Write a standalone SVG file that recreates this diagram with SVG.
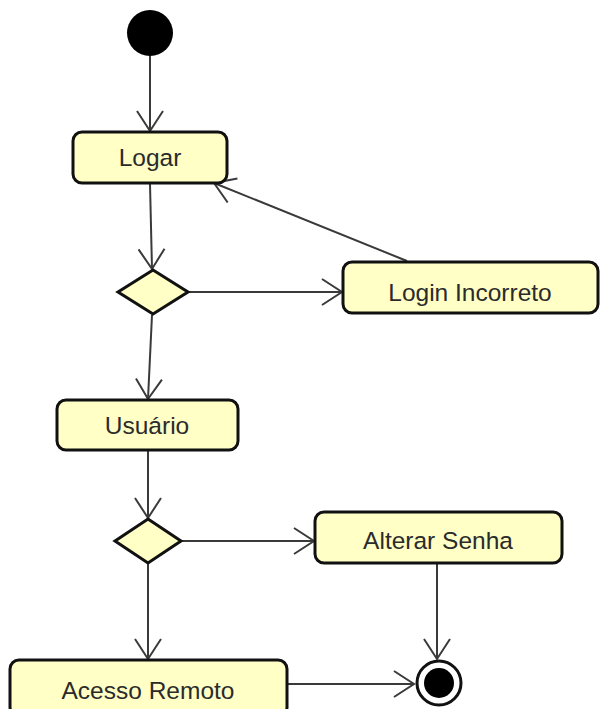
<svg xmlns="http://www.w3.org/2000/svg" width="601" height="709" viewBox="0 0 601 709">
<defs>
<style>
.act{fill:#FFFFC6;stroke:#111;stroke-width:3}
.dec{fill:#FFFFC6;stroke:#111;stroke-width:3}
.lbl{font-family:"Liberation Sans",Arial,sans-serif;font-size:24.5px;fill:#2b2b2b;text-anchor:middle}
.edge{fill:none;stroke:#3a3a3a;stroke-width:2}
</style>
<marker id="arr" markerUnits="userSpaceOnUse" markerWidth="30" markerHeight="30" viewBox="-22 -15 24 30" refX="0" refY="0" orient="auto">
<path d="M-20,-13 L0,0 L-20,13" fill="none" stroke="#3a3a3a" stroke-width="2"/>
</marker>
</defs>
<rect width="601" height="709" fill="#fff"/>
<g id="connectors">
<line class="edge" x1="150" y1="56" x2="150" y2="131" marker-end="url(#arr)"/>
<line class="edge" x1="150" y1="184" x2="152" y2="269" marker-end="url(#arr)"/>
<line class="edge" x1="188" y1="292" x2="342" y2="292" marker-end="url(#arr)"/>
<line class="edge" x1="407" y1="261" x2="214" y2="183" marker-end="url(#arr)"/>
<line class="edge" x1="152" y1="315" x2="148" y2="399" marker-end="url(#arr)"/>
<line class="edge" x1="148" y1="451" x2="148" y2="518" marker-end="url(#arr)"/>
<line class="edge" x1="181" y1="541" x2="314" y2="541" marker-end="url(#arr)"/>
<line class="edge" x1="148" y1="563" x2="148" y2="659" marker-end="url(#arr)"/>
<line class="edge" x1="437" y1="564" x2="437" y2="659" marker-end="url(#arr)"/>
<line class="edge" x1="288" y1="684" x2="414" y2="684" marker-end="url(#arr)"/>
</g>
<g id="start"><circle cx="150" cy="33" r="23" fill="#000"/></g>
<g id="logar"><rect class="act" x="73" y="132" width="154" height="51" rx="9"/><text class="lbl" x="150" y="166">Logar</text></g>
<g id="decision1"><polygon class="dec" points="153,270 188,292 153,314 118,292"/></g>
<g id="loginIncorreto"><rect class="act" x="343" y="262" width="255" height="51" rx="9"/><text class="lbl" x="470" y="301">Login Incorreto</text></g>
<g id="usuario"><rect class="act" x="57" y="400" width="181" height="50" rx="9"/><text class="lbl" x="147" y="434">Usuário</text></g>
<g id="decision2"><polygon class="dec" points="148,519 181,541 148,563 115,541"/></g>
<g id="alterarSenha"><rect class="act" x="315" y="512" width="247" height="51" rx="9"/><text class="lbl" x="438" y="549">Alterar Senha</text></g>
<g id="acessoRemoto"><rect class="act" x="10" y="660" width="277" height="56" rx="9"/><text class="lbl" x="148" y="699">Acesso Remoto</text></g>
<g id="final"><circle cx="439" cy="683" r="22" fill="#fff" stroke="#111" stroke-width="3"/><circle cx="439" cy="683" r="15" fill="#000"/></g>
</svg>
